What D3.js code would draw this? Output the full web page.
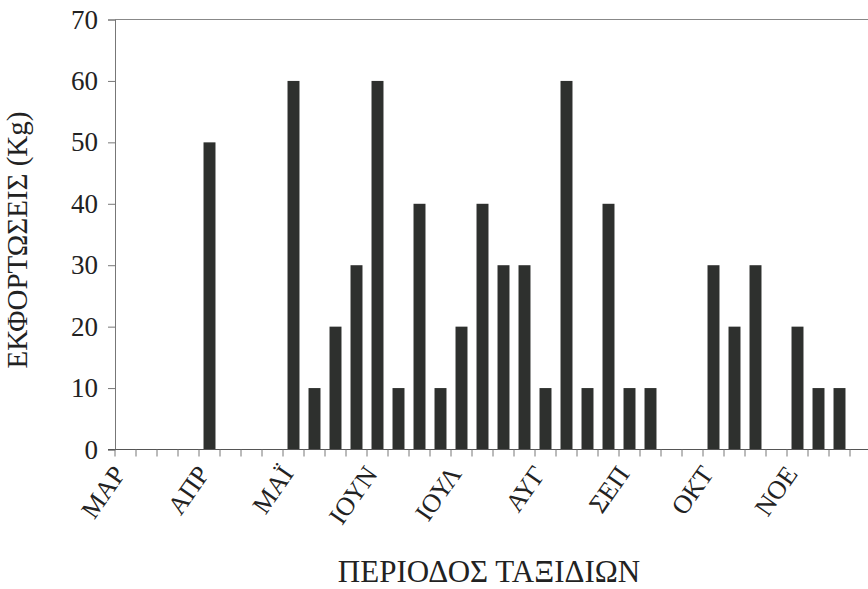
<!DOCTYPE html>
<html><head><meta charset="utf-8">
<script src="https://cdn.jsdelivr.net/npm/d3@7"></script>
<style>body{margin:0;background:#fff}svg{display:block}text{font-family:"Liberation Serif","Times New Roman",serif;fill:#222}</style>
</head><body>
<svg id="c" width="868" height="589"></svg>
<script>
// 36 trip slots (4 per month), value in Kg (0 = no landing)
const slots = d3.range(36);
const values = [0,0,0,0,50,0,0,0,60,10,20,30,60,10,40,10,20,40,30,30,10,60,10,40,10,10,0,0,30,20,30,0,20,10,10,0];
const monthLabels = ["ΜΑΡ","ΑΠΡ","ΜΑΪ","ΙΟΥΝ","ΙΟΥΛ","ΑΥΓ","ΣΕΠ","ΟΚΤ","ΝΟΕ"];
const yTicks = [0,10,20,30,40,50,60,70];
const yTitle = "ΕΚΦΟΡΤΩΣΕΙΣ (Kg)";
const xTitle = "ΠΕΡΙΟΔΟΣ ΤΑΞΙΔΙΩΝ";

const svg = d3.select("#c");
const L = 115, R = 871, T = 19.5, B = 449.5;
const x = d3.scaleBand().domain(slots).range([L, R]).paddingInner(0.43).paddingOuter(0.215);
const y = d3.scaleLinear().domain([0, 70]).range([B, T]);

// top border
svg.append("line").attr("x1", L).attr("x2", R).attr("y1", T).attr("y2", T).attr("stroke", "#888").attr("stroke-width", 1.2);

// bars
svg.append("g").selectAll("rect").data(values.map((v, i) => ({i, v})).filter(d => d.v > 0)).join("rect")
  .attr("x", d => x(d.i)).attr("width", x.bandwidth())
  .attr("y", d => y(d.v)).attr("height", d => B - y(d.v))
  .attr("fill", "#2e302e");

// y axis
const ya = svg.append("g").attr("transform", `translate(${L},0)`)
  .call(d3.axisLeft(y).tickValues(yTicks).tickSize(7).tickPadding(10));
ya.select(".domain").attr("stroke", "#777");
ya.selectAll(".tick line").attr("stroke", "#777");
ya.selectAll("text").attr("font-size", 27).attr("fill", "#222");

// x axis ticks at slot boundaries
const step = x.step();
const xa = svg.append("g");
xa.append("line").attr("x1", L - 7).attr("x2", R).attr("y1", B).attr("y2", B).attr("stroke", "#555").attr("stroke-width", 1.2);
xa.selectAll("line.t").data(slots).join("line").attr("class", "t")
  .attr("x1", d => x(d) - x.paddingOuter() * step).attr("x2", d => x(d) - x.paddingOuter() * step)
  .attr("y1", B).attr("y2", B + 7).attr("stroke", "#777");

// month labels, every 4 slots
xa.selectAll("text.m").data(monthLabels).join("text").attr("class", "m")
  .attr("text-anchor", "end")
  .attr("transform", (d, k) => `translate(${x(k * 4) + x.bandwidth() / 2 + 1},${474}) rotate(-55)`)
  .attr("font-size", 26)
  .text(d => d);

// titles
svg.append("text").attr("transform", "translate(27,240) rotate(-90)").attr("text-anchor", "middle")
  .attr("font-size", 29).text(yTitle);
svg.append("text").attr("x", 489).attr("y", 582).attr("text-anchor", "middle")
  .attr("font-size", 31).text(xTitle);
</script>
</body></html>
